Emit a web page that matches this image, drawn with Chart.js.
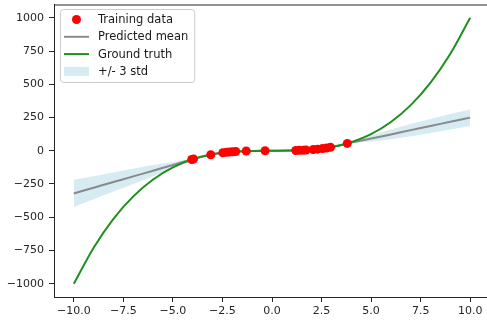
<!DOCTYPE html>
<html>
<head>
<meta charset="utf-8">
<script src="https://cdn.jsdelivr.net/npm/chart.js@4.4.0/dist/chart.umd.min.js"></script>
<style>
  html, body { margin: 0; padding: 0; overflow: hidden; background: #fff; }
  #chart { display: block; }
</style>
</head>
<body>
<canvas id="chart" width="500" height="321" style="width:500px;height:321px"></canvas>
<script>
// training points
const trainX = [-4.05, -3.96, -3.09, -2.48, -2.3, -2.15, -2.0, -1.83, -1.3, -0.35, 1.2, 1.38, 1.58, 1.72, 2.08, 2.3, 2.55, 2.75, 2.95, 3.8];
const trainY = [-66, -62, -30, -15, -12, -10, -8, -6, -2, 0, 2, 3, 4, 5, 9, 12, 17, 21, 26, 55];

// ground truth curve
const truthX = [-10, -9, -8, -7, -6, -5, -4, -3, -2, -1, 0, 1, 2, 3, 4, 5, 6, 7, 8, 9, 10];
const truthY = [-1000, -729, -512, -343, -216, -125, -64, -27, -8, -1, 0, 1, 8, 27, 64, 125, 216, 343, 512, 729, 1000];

// predicted mean and half width of the +/- 3 std band
const meanX = [-10, -9, -8, -7, -6, -5, -4, -3, -2, -1, 0, 1, 2, 3, 3.8, 5, 6, 7, 8, 9, 10];
const meanY = [-321, -278, -235, -193, -150, -107, -64, -27, -8, -1, 0, 1, 8, 27, 55, 92, 123, 155, 186, 218, 249];
const band3Std = [102, 87, 72, 58, 42, 22, 5, 3, 3, 3, 4, 4, 3, 3, 4, 22, 36, 46, 53, 58, 62];

const xTicks = [-10, -7.5, -5, -2.5, 0, 2.5, 5, 7.5, 10];
const yTicks = [-1000, -750, -500, -250, 0, 250, 500, 750, 1000];

const FONT = "DejaVu Sans";
const AXIS_COLOR = "#262626";

function pts(xs, ys) {
  return xs.map((x, i) => ({ x: x, y: ys[i] }));
}

const upper = meanY.map((m, i) => m + band3Std[i]);
const lower = meanY.map((m, i) => m - band3Std[i]);

// top spine + legend box like matplotlib
const framePlugin = {
  id: "frame",
  afterDraw(chart) {
    const ctx = chart.ctx;
    const a = chart.chartArea;
    ctx.save();
    ctx.strokeStyle = AXIS_COLOR;
    ctx.lineWidth = 1;
    ctx.beginPath();
    ctx.moveTo(a.left, a.top + 0.5);
    ctx.lineTo(a.right, a.top + 0.5);
    ctx.stroke();

    const items = chart.data.datasets
      .filter((d) => d.legendKind)
      .sort((p, q) => p.legendRank - q.legendRank);
    ctx.font = "11.5px '" + FONT + "'";
    let maxW = 0;
    items.forEach((d) => { maxW = Math.max(maxW, ctx.measureText(d.label).width); });
    const x0 = 60, y0 = 9;
    const textX = 98;
    const w = textX + maxW + 6 - x0;
    const h = 73;
    ctx.beginPath();
    ctx.roundRect(x0 + 0.5, y0 + 0.5, w, h, 3);
    ctx.fillStyle = "rgba(255,255,255,0.8)";
    ctx.fill();
    ctx.strokeStyle = "#cccccc";
    ctx.stroke();

    ctx.textBaseline = "middle";
    items.forEach((d, i) => {
      const cy = y0 + 10.5 + i * 17.3;
      if (d.legendKind === "dot") {
        ctx.beginPath();
        ctx.arc(76.5, cy, 4.5, 0, Math.PI * 2);
        ctx.fillStyle = d.backgroundColor;
        ctx.fill();
      } else if (d.legendKind === "line") {
        ctx.beginPath();
        ctx.moveTo(64, cy);
        ctx.lineTo(89, cy);
        ctx.strokeStyle = d.borderColor;
        ctx.lineWidth = 2;
        ctx.stroke();
      } else {
        ctx.fillStyle = d.backgroundColor;
        ctx.fillRect(64, cy - 4.5, 25, 9);
      }
      ctx.fillStyle = "#1a1a1a";
      ctx.fillText(d.label, textX, cy + 0.5);
    });
    ctx.restore();
  },
};

const ctx = document.getElementById("chart");

new Chart(ctx, {
  type: "scatter",
  data: {
    datasets: [
      {
        label: "Training data",
        data: pts(trainX, trainY),
        backgroundColor: "#ff0000",
        borderWidth: 0,
        pointRadius: 4.5,
        pointHoverRadius: 4.5,
        order: 0,
        legendKind: "dot",
        legendRank: 0,
      },
      {
        label: "Predicted mean",
        data: pts(meanX, meanY),
        showLine: true,
        borderColor: "#8a8a8a",
        borderWidth: 2,
        pointRadius: 0,
        cubicInterpolationMode: "monotone",
        order: 2,
        legendKind: "line",
        legendRank: 1,
      },
      {
        label: "Ground truth",
        data: pts(truthX, truthY),
        showLine: true,
        borderColor: "#1f8f1f",
        borderWidth: 2,
        pointRadius: 0,
        cubicInterpolationMode: "monotone",
        order: 1,
        legendKind: "line",
        legendRank: 2,
      },
      {
        label: "+/- 3 std",
        data: pts(meanX, upper),
        showLine: true,
        borderWidth: 0,
        borderColor: "rgba(0,0,0,0)",
        backgroundColor: "rgba(173,216,230,0.5)",
        pointRadius: 0,
        cubicInterpolationMode: "monotone",
        fill: "+1",
        order: 3,
        legendKind: "rect",
        legendRank: 3,
      },
      {
        label: "lower",
        data: pts(meanX, lower),
        showLine: true,
        borderWidth: 0,
        borderColor: "rgba(0,0,0,0)",
        backgroundColor: "rgba(173,216,230,0.5)",
        pointRadius: 0,
        cubicInterpolationMode: "monotone",
        fill: false,
        order: 3,
      },
    ],
  },
  options: {
    responsive: false,
    animation: false,
    events: [],
    layout: { padding: { top: 2, right: 10, left: 0, bottom: 0 } },
    plugins: {
      legend: { display: false },
      tooltip: { enabled: false },
    },
    scales: {
      x: {
        type: "linear",
        min: -11,
        max: 11,
        afterBuildTicks: (scale) => {
          scale.ticks = xTicks.map((v) => ({ value: v }));
        },
        afterFit: (scale) => {
          scale.height = 24;
          scale.paddingLeft = 0;
          scale.paddingRight = 0;
        },
        grid: { display: true, drawOnChartArea: false, drawTicks: true, tickLength: 5, color: AXIS_COLOR },
        border: { display: true, color: AXIS_COLOR, width: 1 },
        ticks: {
          padding: 3,
          maxRotation: 0,
          autoSkip: false,
          color: AXIS_COLOR,
          font: { family: FONT, size: 11 },
          callback: (v) => Number(v).toFixed(1).replace("-", "\u2212"),
        },
      },
      y: {
        type: "linear",
        min: -1100,
        max: 1100,
        afterBuildTicks: (scale) => {
          scale.ticks = yTicks.map((v) => ({ value: v }));
        },
        afterFit: (scale) => {
          scale.width = 54;
          scale.paddingTop = 0;
          scale.paddingBottom = 0;
        },
        grid: { display: true, drawOnChartArea: false, drawTicks: true, tickLength: 5, color: AXIS_COLOR },
        border: { display: true, color: AXIS_COLOR, width: 1 },
        ticks: {
          padding: 5,
          autoSkip: false,
          color: AXIS_COLOR,
          font: { family: FONT, size: 11 },
          callback: (v) => String(v).replace("-", "\u2212"),
        },
      },
    },
  },
  plugins: [framePlugin],
});
</script>
</body>
</html>
